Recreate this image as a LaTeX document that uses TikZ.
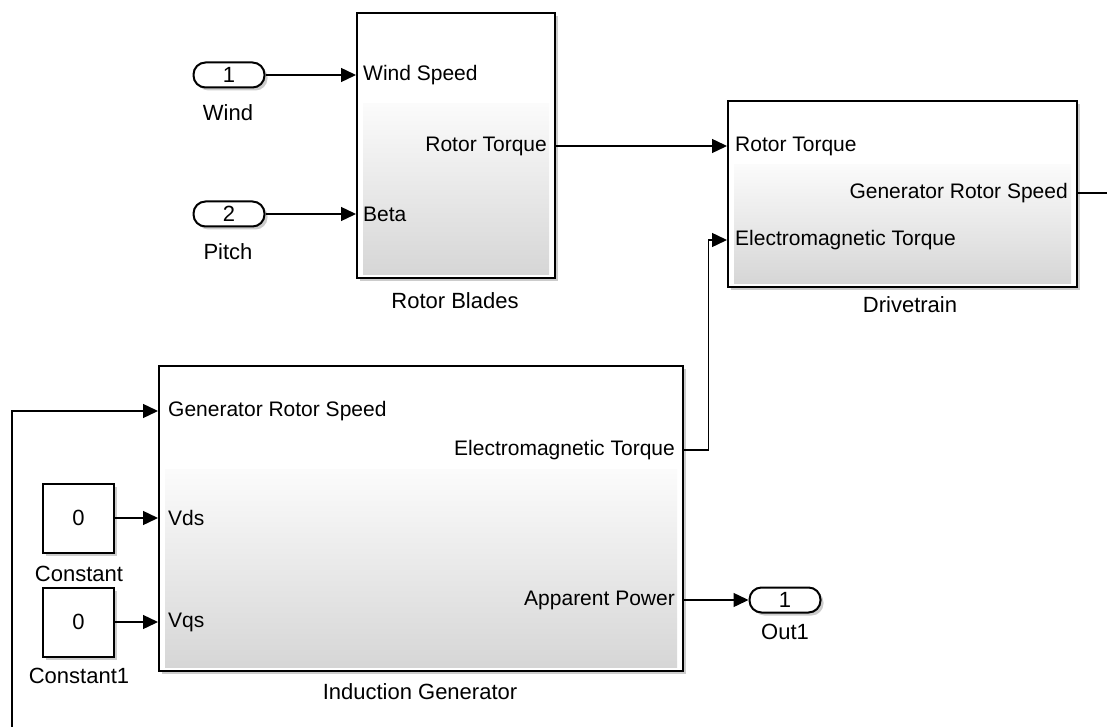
\documentclass[tikz,border=0pt]{standalone}
\usepackage{fontspec}
\setmainfont{Liberation Sans}
\usetikzlibrary{arrows.meta,calc,shadows}
\newcommand\pfont{\fontsize{21}{23}\selectfont}
\newcommand\nfont{\fontsize{22}{24}\selectfont}

\begin{document}
\begin{tikzpicture}[x=1pt,y=-1pt,>={Triangle[length=15pt,width=14pt]},
  sig/.style={->,line width=1.4pt},
  wire/.style={line width=1.4pt},
  shd/.style={drop shadow={shadow xshift=3pt,shadow yshift=-3pt,opacity=0.4}},
  blk/.style={draw,line width=2.2pt,fill=white,inner sep=0pt,anchor=north west,shd,
    path picture={
      \path (path picture bounding box.south west) coordinate (sw)
            (path picture bounding box.north east) coordinate (ne);
      \shade[top color=gray!3,bottom color=gray!32]
        ($(sw)+(6pt,4pt)$) rectangle ($(ne)!0.34!(ne|-sw)+(-6pt,0pt)$);}},
  inport/.style={draw,line width=2pt,rounded corners=12pt,fill=white,shd,
    minimum width=71pt,minimum height=25pt,inner sep=0pt,font=\nfont},
  cst/.style={draw,line width=2pt,fill=white,shd,
    minimum width=71pt,minimum height=69pt,inner sep=0pt,font=\nfont},
  pl/.style={inner sep=0pt,font=\pfont},
  nm/.style={inner sep=0pt,font=\nfont}]
  \useasboundingbox[fill=white] (0,0) rectangle (1107,727);

  % blocks
  \node[blk,minimum width=198pt,minimum height=265pt] (rb) at (356,12) {};
  \node[blk,minimum width=349pt,minimum height=186pt] (dt) at (727,100) {};
  \node[blk,minimum width=524pt,minimum height=305pt] (ig) at (158,365) {};
  \node[nm] at (455,301) {Rotor Blades};
  \node[nm] at (910,305) {Drivetrain};
  \node[nm] at (420,692) {Induction Generator};

  % ports
  \node[pl,anchor=west] (rbws) at (363,75) {Wind Speed};
  \node[pl,anchor=west] (rbbe) at (363,214) {Beta};
  \node[pl,anchor=east] (rbrt) at (547,146) {Rotor Torque};
  \node[pl,anchor=west] (dtrt) at (735,146) {Rotor Torque};
  \node[pl,anchor=west] (dtem) at (735,240) {Electromagnetic Torque};
  \node[pl,anchor=east] (dtgs) at (1068,193) {Generator Rotor Speed};
  \node[pl,anchor=west] (iggs) at (168,411) {Generator Rotor Speed};
  \node[pl,anchor=west] (igvd) at (168,518) {Vds};
  \node[pl,anchor=west] (igvq) at (168,622) {Vqs};
  \node[pl,anchor=east] (igem) at (675,450) {Electromagnetic Torque};
  \node[pl,anchor=east] (igap) at (675,600) {Apparent Power};

  % sources and sink
  \node[inport] (wind) at (229,75) {1};
  \node[inport] (pitch) at (229,214) {2};
  \node[cst] (c0) at (78.5,518) {0};
  \node[cst] (c1) at (78.5,622) {0};
  \node[inport] (out1) at (785,600) {1};
  \node[nm] at (228,113) {Wind};
  \node[nm] at (228,252) {Pitch};
  \node[nm] at (79,574) {Constant};
  \node[nm] at (79,676) {Constant1};
  \node[nm] at (785,632) {Out1};

  \coordinate (gsend) at (1107,193);
  \coordinate (fb) at (12,727);

  \draw[sig] (wind) -- (wind -| rb.west);
  \draw[sig] (pitch) -- (pitch -| rb.west);
  \draw[sig] (rb.east |- rbrt) -- (dt.west |- rbrt);
  \draw[wire] (dt.east |- dtgs) -- (gsend);
  \draw[sig] (ig.east |- igem) -- ++(24,0) |- (dt.west |- dtem);
  \draw[sig] (fb) |- (ig.west |- iggs);
  \draw[sig] (c0) -- (c0 -| ig.west);
  \draw[sig] (c1) -- (c1 -| ig.west);
  \draw[sig] (ig.east |- igap) -- (out1);
\end{tikzpicture}
\end{document}
